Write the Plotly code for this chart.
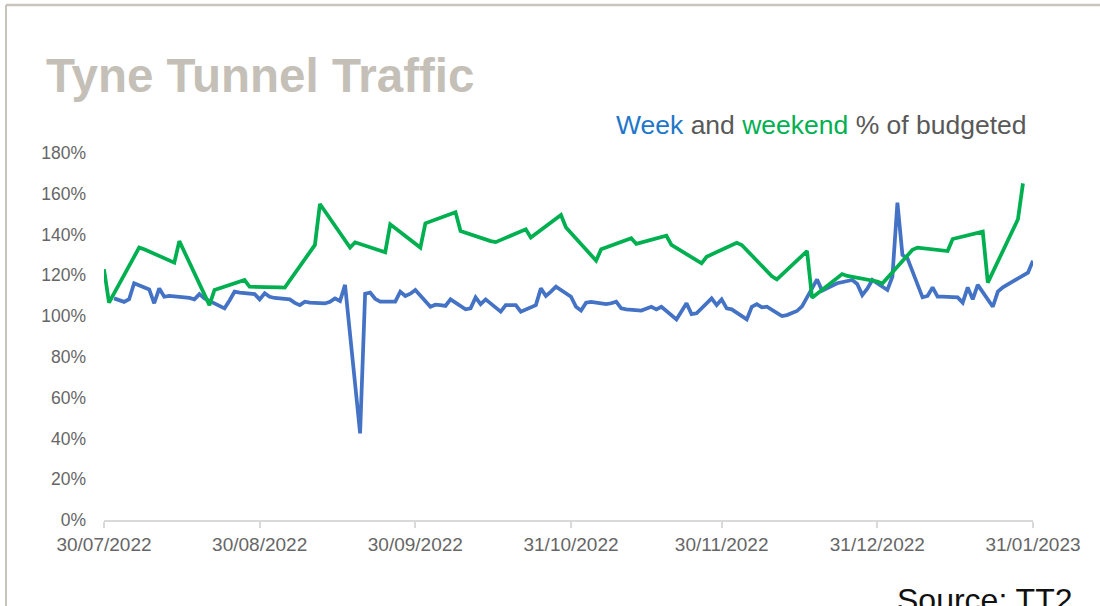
import plotly.graph_objects as go

# ---------------- data ----------------
week_dates = [
    "2022-08-01", "2022-08-02", "2022-08-03", "2022-08-04", "2022-08-05",
    "2022-08-08", "2022-08-09", "2022-08-10", "2022-08-11", "2022-08-12",
    "2022-08-15", "2022-08-16", "2022-08-17", "2022-08-18", "2022-08-19",
    "2022-08-22", "2022-08-23", "2022-08-24", "2022-08-25", "2022-08-26",
    "2022-08-29", "2022-08-30", "2022-08-31", "2022-09-01", "2022-09-02",
    "2022-09-05", "2022-09-06", "2022-09-07", "2022-09-08", "2022-09-09",
    "2022-09-12", "2022-09-13", "2022-09-14", "2022-09-15", "2022-09-16",
    "2022-09-19", "2022-09-20", "2022-09-21", "2022-09-22", "2022-09-23",
    "2022-09-26", "2022-09-27", "2022-09-28", "2022-09-29", "2022-09-30",
    "2022-10-03", "2022-10-04", "2022-10-05", "2022-10-06", "2022-10-07",
    "2022-10-10", "2022-10-11", "2022-10-12", "2022-10-13", "2022-10-14",
    "2022-10-17", "2022-10-18", "2022-10-19", "2022-10-20", "2022-10-21",
    "2022-10-24", "2022-10-25", "2022-10-26", "2022-10-27", "2022-10-28",
    "2022-10-31", "2022-11-01", "2022-11-02", "2022-11-03", "2022-11-04",
    "2022-11-07", "2022-11-08", "2022-11-09", "2022-11-10", "2022-11-11",
    "2022-11-14", "2022-11-15", "2022-11-16", "2022-11-17", "2022-11-18",
    "2022-11-21", "2022-11-22", "2022-11-23", "2022-11-24", "2022-11-25",
    "2022-11-28", "2022-11-29", "2022-11-30", "2022-12-01", "2022-12-02",
    "2022-12-05", "2022-12-06", "2022-12-07", "2022-12-08", "2022-12-09",
    "2022-12-12", "2022-12-13", "2022-12-14", "2022-12-15", "2022-12-16",
    "2022-12-19", "2022-12-20", "2022-12-21", "2022-12-22", "2022-12-23",
    "2022-12-26", "2022-12-27", "2022-12-28", "2022-12-29", "2022-12-30",
    "2023-01-02", "2023-01-03", "2023-01-04", "2023-01-05", "2023-01-06",
    "2023-01-09", "2023-01-10", "2023-01-11", "2023-01-12", "2023-01-13",
    "2023-01-16", "2023-01-17", "2023-01-18", "2023-01-19", "2023-01-20",
    "2023-01-23", "2023-01-24", "2023-01-25", "2023-01-26", "2023-01-27",
    "2023-01-30", "2023-01-31",
]
week_values = [
    108.7, 107.8, 107.0, 108.3, 116.1,
    113.1, 106.3, 113.6, 109.5, 109.9,
    109.3, 108.9, 108.2, 110.8, 108.7,
    105.4, 103.8, 107.7, 112.0, 111.5,
    110.8, 108.2, 111.2, 109.5, 108.9,
    108.2, 106.5, 105.4, 107.1, 106.6,
    106.2, 107.0, 108.7, 107.4, 115.3,
    42.5, 111.0, 111.5, 108.5, 107.1,
    107.1, 112.0, 109.9, 111.0, 112.8,
    104.6, 105.6, 105.4, 105.0, 108.2,
    103.3, 103.8, 109.2, 105.9, 108.2,
    102.2, 105.4, 105.4, 105.4, 102.2,
    105.4, 113.6, 109.9, 112.0, 114.4,
    109.5, 104.6, 102.7, 106.6, 107.0,
    105.9, 106.3, 107.1, 103.8, 103.3,
    102.7, 103.5, 104.6, 103.3, 104.6,
    98.4, 102.7, 106.3, 101.0, 101.4,
    108.7, 105.4, 108.2, 103.8, 103.3,
    98.4, 104.6, 105.9, 104.3, 104.6,
    100.0, 100.5, 101.5, 102.5, 104.8,
    118.0, 112.5, 113.8, 115.3, 116.1,
    117.7, 115.8, 110.3, 113.5, 117.7,
    112.8, 119.3, 155.6, 130.0, 128.3,
    109.2, 109.9, 114.1, 109.5, 109.5,
    109.2, 106.6, 114.1, 108.2, 115.3,
    104.6, 112.0, 114.1, 115.3, 117.0,
    121.3, 127.2,
]

weekend_dates = [
    "2022-07-30", "2022-07-31", "2022-08-06", "2022-08-07", "2022-08-13",
    "2022-08-14", "2022-08-20", "2022-08-21", "2022-08-27", "2022-08-28",
    "2022-09-03", "2022-09-04", "2022-09-10", "2022-09-11", "2022-09-17",
    "2022-09-18", "2022-09-24", "2022-09-25", "2022-10-01", "2022-10-02",
    "2022-10-08", "2022-10-09", "2022-10-15", "2022-10-16", "2022-10-22",
    "2022-10-23", "2022-10-29", "2022-10-30", "2022-11-05", "2022-11-06",
    "2022-11-12", "2022-11-13", "2022-11-19", "2022-11-20", "2022-11-26",
    "2022-11-27", "2022-12-03", "2022-12-04", "2022-12-10", "2022-12-11",
    "2022-12-17", "2022-12-18", "2022-12-24", "2022-12-25", "2022-12-31",
    "2023-01-01", "2023-01-07", "2023-01-08", "2023-01-14", "2023-01-15",
    "2023-01-21", "2023-01-22", "2023-01-28", "2023-01-29",
]
weekend_values = [
    123.0, 106.6, 133.6, 132.8, 126.2,
    136.8, 105.4, 112.8, 117.7, 114.4,
    114.1, 114.0, 134.9, 155.0, 133.6,
    136.2, 131.3, 145.0, 133.6, 145.5,
    151.0, 141.7, 136.8, 136.3, 142.6,
    138.5, 149.6, 143.5, 127.2, 132.8,
    138.2, 135.4, 139.4, 134.9, 125.9,
    129.1, 136.0, 134.9, 119.5, 118.0,
    131.9, 109.0, 120.6, 119.7, 117.0,
    116.0, 132.5, 133.6, 131.9, 137.8,
    141.4, 116.4, 147.5, 165.1,
]

tick_dates = ["2022-07-30", "2022-08-30", "2022-09-30", "2022-10-31",
              "2022-11-30", "2022-12-31", "2023-01-31"]
tick_labels = ["30/07/2022", "30/08/2022", "30/09/2022", "31/10/2022",
               "30/11/2022", "31/12/2022", "31/01/2023"]
y_ticks = [0, 20, 40, 60, 80, 100, 120, 140, 160, 180]
y_tick_labels = ["0%", "20%", "40%", "60%", "80%", "100%",
                 "120%", "140%", "160%", "180%"]

# ---------------- layout geometry (pixels) ----------------
W, H = 1100, 606
L, R, T, B = 104, 1033, 153, 520


def px_x(x):
    return (x - L) / (R - L)


def px_y(y):
    return (B - y) / (B - T)


BLUE = "#4472C4"
GREEN = "#00B050"
GREY_TXT = "#666666"

fig = go.Figure()
fig.add_trace(go.Scatter(x=week_dates, y=week_values, mode="lines",
                         line=dict(color=BLUE, width=3.75), name="Week"))
fig.add_trace(go.Scatter(x=weekend_dates, y=weekend_values, mode="lines",
                         line=dict(color=GREEN, width=3.75), name="Weekend"))

fig.update_layout(
    width=W, height=H,
    margin=dict(l=L, r=W - R, t=T, b=H - B, pad=0),
    paper_bgcolor="white", plot_bgcolor="white",
    showlegend=False,
    font=dict(family="Liberation Sans, Arial, sans-serif", color=GREY_TXT),
)

fig.update_xaxes(
    type="date",
    range=[tick_dates[0], tick_dates[-1]],
    tickvals=tick_dates, ticktext=tick_labels,
    showgrid=False, zeroline=False,
    showline=True, linecolor="#d9d9d9", linewidth=1.5,
    ticks="outside", ticklen=6, tickcolor="#d9d9d9", tickwidth=1.5,
    tickfont=dict(size=19, color=GREY_TXT),
)
fig.update_yaxes(
    range=[0, 180],
    tickvals=y_ticks, ticktext=y_tick_labels,
    showgrid=False, zeroline=False, showline=False,
    ticks="", ticklabelstandoff=17,
    tickfont=dict(size=17.5, color=GREY_TXT),
)

# title
fig.add_annotation(
    xref="paper", yref="paper", x=px_x(44), y=px_y(76),
    xanchor="left", yanchor="middle", showarrow=False,
    text="<b>Tyne Tunnel Traffic</b>",
    font=dict(size=47.5, color="#c5c0b7", family="Liberation Sans, Arial"),
)
# legend-like subtitle
fig.add_annotation(
    xref="paper", yref="paper", x=px_x(1029), y=px_y(125),
    xanchor="right", yanchor="middle", showarrow=False,
    text=("<span style='color:#1F77C9'>Week</span>"
          "<span style='color:#595959'> and </span>"
          "<span style='color:#00B050'>weekend</span>"
          "<span style='color:#595959'> % of budgeted</span>"),
    font=dict(size=26.5, family="Liberation Sans, Arial"),
)
# source
fig.add_annotation(
    xref="paper", yref="paper", x=px_x(1074), y=px_y(600),
    xanchor="right", yanchor="middle", showarrow=False,
    text="Source: TT2",
    font=dict(size=32, color="#111111", family="Liberation Sans, Arial"),
)

# slide frame (top and left border)
fig.add_shape(type="line", xref="paper", yref="paper",
              x0=px_x(6), x1=px_x(1100), y0=px_y(5), y1=px_y(5),
              line=dict(color="#c8c4bc", width=2.5))
fig.add_shape(type="line", xref="paper", yref="paper",
              x0=px_x(6), x1=px_x(6), y0=px_y(5), y1=px_y(606),
              line=dict(color="#c8c4bc", width=2))

fig.write_html(
    "out.html",
    config={"displayModeBar": False},
    post_script="document.body.style.margin='0';document.body.style.overflow='hidden';",
)
